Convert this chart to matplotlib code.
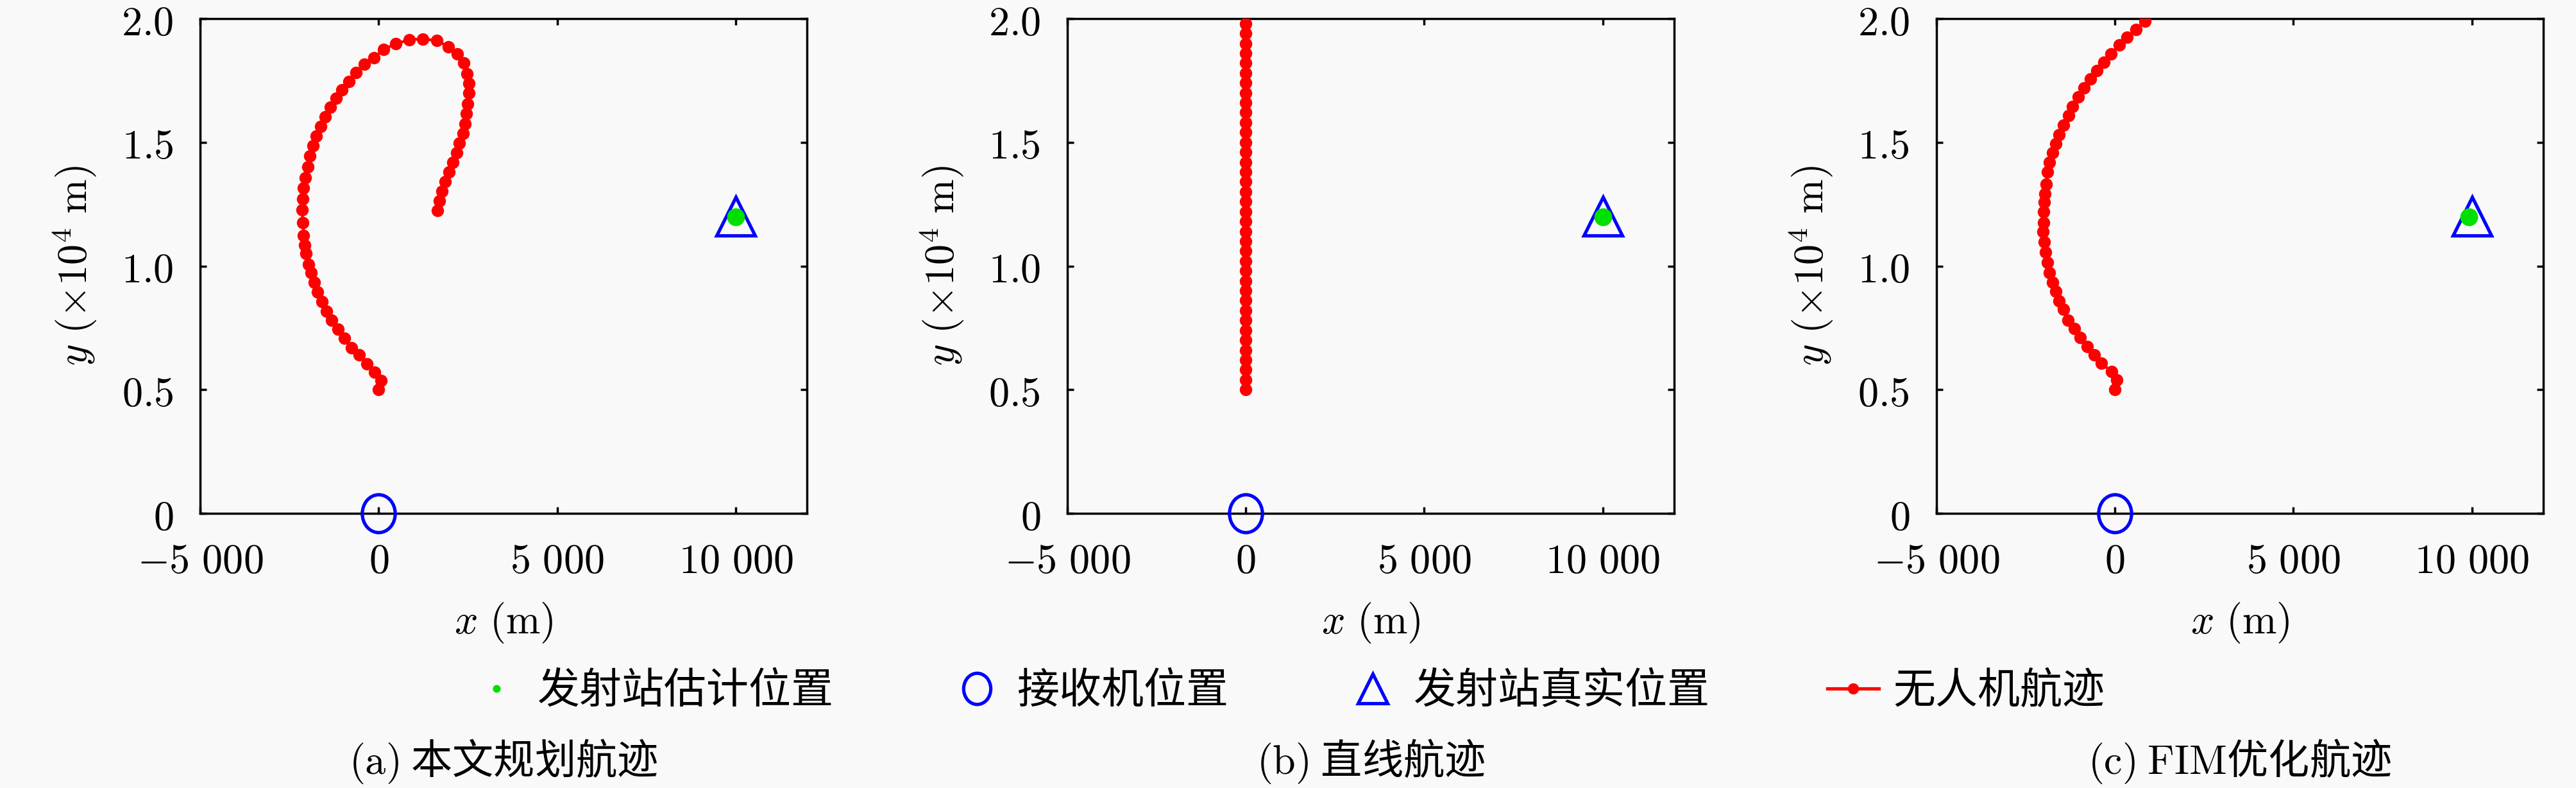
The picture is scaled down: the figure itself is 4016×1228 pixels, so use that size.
import matplotlib
matplotlib.use("Agg")
import matplotlib.pyplot as plt
from matplotlib.lines import Line2D
from matplotlib.path import Path
from matplotlib.transforms import Affine2D

# UAV tracks (m)
plan_x = [0, 70, -110, -330, -540, -765, -960, -1140, -1310, -1470, -1590, -1710,
          -1800, -1890, -1970, -2030, -2070, -2100, -2120, -2150, -2130, -2100,
          -2050, -1990, -1920, -1830, -1740, -1620, -1500, -1350, -1200, -1030,
          -840, -630, -410, -125, 145, 475, 865, 1235, 1625, 1960, 2210, 2390,
          2480, 2520, 2520, 2500, 2450, 2420, 2360, 2260, 2180, 2080, 1970, 1870,
          1780, 1700, 1650]
plan_y = [5000, 5360, 5720, 6050, 6400, 6700, 7070, 7440, 7800, 8170, 8560, 8950,
          9340, 9730, 10070, 10510, 10850, 11240, 11760, 12270, 12710, 13140,
          13570, 14010, 14440, 14870, 15260, 15650, 16030, 16430, 16780, 17120,
          17470, 17810, 18160, 18430, 18760, 18980, 19150, 19180, 19110, 18860,
          18570, 18200, 17770, 17380, 16990, 16560, 16170, 15740, 15350, 14960,
          14570, 14180, 13790, 13400, 13010, 12625, 12250]

line_x = [0] * 38
line_y = [5000, 5400, 5800, 6200, 6600, 7000, 7400, 7800, 8200, 8600, 9000, 9400,
          9800, 10200, 10600, 11000, 11400, 11800, 12200, 12600, 13000, 13400,
          13800, 14200, 14600, 15000, 15400, 15800, 16200, 16600, 17000, 17400,
          17800, 18200, 18600, 19000, 19400, 19800]

fim_x = [0, 58, -93, -385, -583, -781, -967, -1142, -1305, -1434, -1562, -1655,
         -1748, -1830, -1888, -1946, -1981, -2016, -2000, -1990, -1980, -1960,
         -1930, -1890, -1830, -1750, -1660, -1560, -1440, -1300, -1180, -1030,
         -870, -690, -505, -315, -105, 115, 345, 585, 835]
fim_y = [5000, 5390, 5740, 6060, 6400, 6740, 7100, 7470, 7820, 8240, 8590, 8970,
         9350, 9730, 10130, 10550, 10970, 11380, 11760, 12180, 12570, 12920,
         13310, 13790, 14180, 14570, 14930, 15310, 15700, 16070, 16440, 16830,
         17190, 17570, 17890, 18240, 18580, 18930, 19260, 19570, 19890]

receiver = (0, 0)
emitter_true = (10000, 12000)
emitter_est = [(10000, 11990), (10000, 11990), (9920, 11980)]

xticks = [-5000, 0, 5000, 10000]
xtick_labels = [r"$-5\ 000$", r"$0$", r"$5\ 000$", r"$10\ 000$"]
yticks = [0, 5000, 10000, 15000, 20000]
ytick_labels = [r"$0$", r"$0.5$", r"$1.0$", r"$1.5$", r"$2.0$"]

captions = [r"$\mathrm{(a)}$ 本文规划航迹", r"$\mathrm{(b)}$ 直线航迹",
            r"$\mathrm{(c)}$ $\mathrm{FIM}$优化航迹"]
legend_labels = ["发射站估计位置", "接收机位置", "发射站真实位置", "无人机航迹"]

plt.rcParams["mathtext.fontset"] = "cm"
plt.rcParams["font.family"] = ["Noto Sans CJK SC", "DejaVu Sans"]

BG = "#f9f9f9"
GREEN = "#00e000"
FS = 18.5

# the receiver circle is drawn slightly taller than wide in the original
ellipse = Path.unit_circle().transformed(Affine2D().scale(0.87, 1.0))

fig = plt.figure(figsize=(16.064, 4.912), dpi=250, facecolor=BG)

lefts = [0.0777, 0.4143, 0.7517]
tracks = [(plan_x, plan_y), (line_x, line_y), (fim_x, fim_y)]

for i, (left, (tx, ty)) in enumerate(zip(lefts, tracks)):
    ax = fig.add_axes([left, 0.3485, 0.2356, 0.6279], facecolor=BG)
    ax.plot(tx, ty, "-", color="red", lw=1.2, marker="o", ms=4.6, mec="red", zorder=3)
    ax.plot(*emitter_true, "^", ms=17, mfc="none", mec="blue", mew=1.5, zorder=4)
    ax.plot(*emitter_est[i], "o", ms=7, color=GREEN, mec=GREEN, zorder=5)
    ax.plot(*receiver, marker=ellipse, ms=17, mfc="none", mec="blue", mew=1.5,
            zorder=5, clip_on=False)

    ax.set_xlim(-5000, 12000)
    ax.set_ylim(0, 20000)
    ax.set_xticks(xticks)
    ax.set_xticklabels(xtick_labels)
    ax.set_yticks(yticks)
    ax.set_yticklabels(ytick_labels)
    ax.tick_params(direction="in", top=True, right=True, length=3, width=1,
                   labelsize=FS, pad=12)
    for s in ax.spines.values():
        s.set_linewidth(1.0)
    ax.set_xlabel(r"$x\ (\mathrm{m})$", fontsize=FS, labelpad=8)
    ax.set_ylabel(r"$y\ (\times 10^4\ \mathrm{m})$", fontsize=FS, labelpad=10)

    fig.text(left + 0.2356 / 2, 0.034, captions[i], ha="center", va="center",
             fontsize=FS)

handles = [
    Line2D([], [], ls="none", marker="o", ms=2.5, color=GREEN),
    Line2D([], [], ls="none", marker=ellipse, ms=14, mfc="none", mec="blue", mew=1.5),
    Line2D([], [], ls="none", marker="^", ms=13, mfc="none", mec="blue", mew=1.5),
    Line2D([], [], ls="-", lw=1.5, color="red", marker="o", ms=4, mec="red"),
]
fig.legend(handles, legend_labels, loc="center", bbox_to_anchor=(0.5, 0.123),
           ncol=4, frameon=False, fontsize=19, handlelength=1.2,
           handletextpad=0.35, columnspacing=2.8)

fig.savefig("out.png", dpi=250, facecolor=BG)
